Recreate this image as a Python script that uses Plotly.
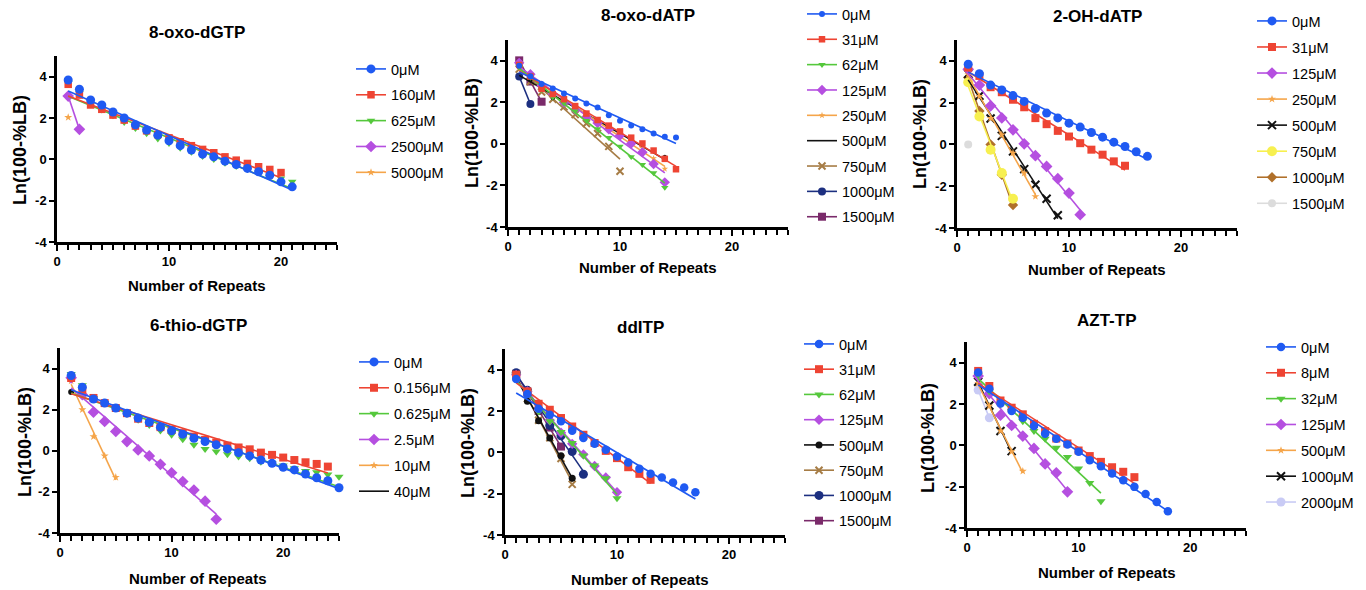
import numpy as np
import plotly.graph_objects as go

W, H = 1366, 590
FONT = "Arial, Liberation Sans, Helvetica, sans-serif"

# ---------------- data ----------------
# Panel 1: 8-oxo-dGTP
dgtp_labels = ["0μM", "160μM", "625μM", "2500μM", "5000μM"]
dgtp_0 = [3.84, 3.39, 2.87, 2.63, 2.29, 2.00, 1.67, 1.42, 1.17, 0.90, 0.66, 0.45, 0.25, 0.12, -0.09, -0.25, -0.44, -0.60, -0.77, -1.09, -1.33]
dgtp_160 = [3.63, 3.11, 2.63, 2.42, 2.14, 1.90, 1.61, 1.38, 1.20, 1.04, 0.85, 0.66, 0.48, 0.32, 0.12, -0.04, -0.20, -0.36, -0.49, -0.64]
dgtp_625 = [3.70, 3.20, 2.65, 2.40, 2.12, 1.80, 1.50, 1.25, 1.00, 0.78, 0.55, 0.35, 0.15, 0.00, -0.18, -0.33, -0.48, -0.63, -0.78, -0.92, -1.08]
dgtp_2500 = [3.06, 1.45]
dgtp_5000 = [2.03]

# Panel 2: 8-oxo-dATP
datp_labels = ["0μM", "31μM", "62μM", "125μM", "250μM", "500μM", "750μM", "1000μM", "1500μM"]
datp_0 = [3.76, 3.26, 2.88, 2.67, 2.43, 2.18, 1.94, 1.75, 1.38, 1.11, 0.88, 0.71, 0.50, 0.34, 0.31]
datp_31 = [3.80, 3.25, 2.65, 2.40, 2.15, 1.82, 1.46, 1.15, 0.88, 0.60, 0.30, 0.02, -0.32, -0.72, -1.22]
datp_62 = [3.70, 3.20, 2.60, 2.25, 1.95, 1.58, 1.12, 0.72, 0.30, -0.12, -0.62, -1.00, -1.40, -2.10]
datp_125 = [3.90, 3.35, 2.80, 2.40, 2.00, 1.65, 1.30, 1.00, 0.70, 0.40, 0.02, -0.40, -0.97, -1.85]
datp_250 = [3.80, 3.30, 2.75, 2.40, 2.05, 1.70, 1.35, 1.00, 0.70, 0.40, 0.10, -0.20, -0.70, -1.20]
datp_500 = [3.70, 3.05, 2.60, 2.20, 1.95, 1.60, 1.30, 1.00, 0.75, 0.50, 0.20, -0.05, -0.35, -0.62]
datp_750 = [3.60, 3.00, 2.50, 2.15, 1.78, 1.41, 0.98, 0.50, -0.12, -1.32]
datp_1000 = [3.24, 1.92]
datp_1500 = [4.02, 3.00, 2.03]

# Panel 3: 2-OH-dATP
oh_labels = ["0μM", "31μM", "125μM", "250μM", "500μM", "750μM", "1000μM", "1500μM"]
oh_0 = [3.84, 3.39, 2.84, 2.61, 2.34, 2.06, 1.72, 1.50, 1.27, 1.02, 0.83, 0.57, 0.35, 0.11, -0.10, -0.35, -0.57]
oh_31 = [3.68, 3.28, 2.74, 2.50, 2.14, 1.78, 1.26, 0.97, 0.65, 0.38, 0.06, -0.25, -0.49, -0.81, -1.02]
oh_125 = [3.60, 2.84, 1.85, 1.27, 0.70, 0.03, -0.54, -1.05, -1.64, -2.33, -3.36]
oh_250 = [3.35, 2.30, 1.25, 0.46, -0.41, -1.37, -2.49]
oh_500 = [3.38, 2.33, 1.24, 0.41, -0.33, -1.18, -1.93, -2.60, -3.39]
oh_750 = [2.98, 1.34, -0.25, -1.37, -2.60]
oh_1000 = [3.20, 1.60, 0.00, -1.45, -2.90]
oh_1500 = [0.00]

# Panel 4: 6-thio-dGTP
tg_labels = ["0μM", "0.156μM", "0.625μM", "2.5μM", "10μM", "40μM"]
tg_0 = [3.66, 3.09, 2.52, 2.32, 2.08, 1.83, 1.59, 1.39, 1.15, 0.97, 0.81, 0.61, 0.45, 0.29, 0.09, -0.09, -0.25, -0.45, -0.61, -0.80, -0.93, -1.13, -1.31, -1.46, -1.80]
tg_0156 = [3.54, 2.97, 2.57, 2.32, 2.08, 1.83, 1.56, 1.35, 1.15, 1.02, 0.86, 0.69, 0.53, 0.40, 0.25, 0.16, 0.07, -0.09, -0.20, -0.33, -0.45, -0.56, -0.64, -0.77]
tg_0625 = [3.74, 3.19, 2.57, 2.32, 2.08, 1.80, 1.51, 1.26, 0.99, 0.78, 0.56, 0.29, 0.09, -0.04, -0.17, -0.28, -0.36, -0.53, -0.61, -0.72, -0.85, -0.98, -1.05, -1.15, -1.26]
tg_25 = [3.55, 2.73, 1.88, 1.43, 0.94, 0.45, 0.04, -0.25, -0.66, -1.07, -1.50, -1.91, -2.45, -3.33]
tg_10 = [3.40, 2.00, 0.69, -0.25, -1.29]
tg_40 = [2.86]

# Panel 5: ddITP
dd_labels = ["0μM", "31μM", "62μM", "125μM", "500μM", "750μM", "1000μM", "1500μM"]
dd_0 = [3.55, 2.82, 2.11, 1.82, 1.50, 1.04, 0.69, 0.41, 0.12, -0.20, -0.49, -0.80, -1.04, -1.22, -1.46, -1.70, -1.93]
dd_31 = [3.76, 2.95, 2.35, 2.06, 1.66, 1.25, 0.85, 0.45, 0.07, -0.28, -0.72, -1.04, -1.33]
dd_62 = [3.70, 2.90, 1.98, 1.50, 0.98, 0.45, -0.15, -0.64, -1.25, -2.22]
dd_125 = [3.75, 2.95, 2.05, 1.55, 0.95, 0.41, -0.10, -0.66, -1.22, -1.93]
dd_500 = [3.80, 2.47, 1.53, 0.69, -0.17, -1.25]
dd_750 = [3.70, 2.60, 1.55, 0.70, -0.30, -1.55]
dd_1000 = [3.85, 3.00, 2.05, 1.30, 0.80, 0.04, -1.06]
dd_1500 = [3.80, 2.90, 2.00, 1.20, 0.28]

# Panel 6: AZT-TP
azt_labels = ["0μM", "8μM", "32μM", "125μM", "500μM", "1000μM", "2000μM"]
azt_0 = [3.52, 2.74, 2.03, 1.66, 1.33, 0.93, 0.56, 0.32, 0.04, -0.31, -0.72, -1.01, -1.36, -1.69, -2.01, -2.35, -2.74, -3.19]
azt_8 = [3.60, 2.87, 2.17, 1.82, 1.50, 1.04, 0.69, 0.33, 0.09, -0.25, -0.52, -0.80, -1.06, -1.28, -1.54]
azt_32 = [3.40, 2.60, 1.98, 1.66, 1.17, 0.69, 0.32, -0.12, -0.56, -1.12, -1.82, -2.70]
azt_125 = [3.35, 2.50, 1.46, 0.96, 0.45, -0.15, -0.90, -1.33, -2.25]
azt_500 = [3.00, 1.90, 0.70, -0.30, -1.25]
azt_1000 = [3.08, 1.93, 0.69, -0.28]
azt_2000 = [2.68, 1.33]

x_ticks = [0, 10, 20]
y_ticks = [-4, -2, 0, 2, 4]
y_ticktext = ["-4", "-2", "0", "2", "4"]
x_title = "Number of Repeats"
y_title = "Ln(100-%LB)"

# ---------------- styles ----------------
BLUE = "#1F5AF2"
RED = "#EE4433"
GREEN = "#55C83C"
PURPLE = "#B54FE0"
ORANGE = "#F5A54A"
BLACK = "#111111"
BROWN = "#A67C45"
NAVY = "#1C2F80"
MAROON = "#7A2A6A"
YELLOW = "#F7F050"
BROWN2 = "#B0702A"
GRAY = "#DCDCDC"
LAVENDER = "#C9CBF5"

# (color, symbol, size[, "line" = legend shows line only])
panels = [
    dict(title="8-oxo-dGTP", labels=dgtp_labels,
         series=[dgtp_0, dgtp_160, dgtp_625, dgtp_2500, dgtp_5000],
         styles=[(BLUE, "circle", 9), (RED, "square", 7.5), (GREEN, "triangle-down", 7.5),
                 (PURPLE, "diamond", 9), (ORANGE, "star", 6)],
         box=(57, 337, 242, 56), leg=(357, 69, 26),
         t=(197, 32), xl=(197, 285), yl=(20, 150)),
    dict(title="8-oxo-dATP", labels=datp_labels,
         series=[datp_0, datp_31, datp_62, datp_125, datp_250, datp_500, datp_750, datp_1000, datp_1500],
         styles=[(BLUE, "circle", 6), (RED, "square", 6.5), (GREEN, "triangle-down", 6.5),
                 (PURPLE, "diamond", 8), (ORANGE, "star", 5), (BLACK, "circle", 4, "line"),
                 (BROWN, "x-thin", 7), (NAVY, "circle", 8), (MAROON, "square", 8)],
         box=(508, 788, 227, 40), leg=(808, 14, 25.5),
         t=(648, 15), xl=(648, 268), yl=(472, 133)),
    dict(title="2-OH-dATP", labels=oh_labels,
         series=[oh_0, oh_31, oh_125, oh_250, oh_500, oh_750, oh_1000, oh_1500],
         styles=[(BLUE, "circle", 9), (RED, "square", 8), (PURPLE, "diamond", 9),
                 (ORANGE, "star", 6), (BLACK, "x-thin", 8), (YELLOW, "circle", 10),
                 (BROWN2, "diamond", 8), (GRAY, "circle", 8)],
         box=(957, 1237, 228, 40), leg=(1258, 21, 26.2),
         t=(1097, 16), xl=(1097, 269), yl=(920, 134)),
    dict(title="6-thio-dGTP", labels=tg_labels,
         series=[tg_0, tg_0156, tg_0625, tg_25, tg_10, tg_40],
         styles=[(BLUE, "circle", 9), (RED, "square", 8), (GREEN, "triangle-down", 8),
                 (PURPLE, "diamond", 9), (ORANGE, "star", 6), (BLACK, "circle", 6, "line")],
         box=(60, 339, 533, 348), leg=(360, 362, 26),
         t=(198, 326), xl=(198, 578), yl=(25, 442)),
    dict(title="ddITP", labels=dd_labels,
         series=[dd_0, dd_31, dd_62, dd_125, dd_500, dd_750, dd_1000, dd_1500],
         styles=[(BLUE, "circle", 8.5), (RED, "square", 8), (GREEN, "triangle-down", 8),
                 (PURPLE, "diamond", 8), (BLACK, "circle", 7), (BROWN, "x-thin", 7),
                 (NAVY, "circle", 9), (MAROON, "square", 8)],
         box=(505, 785, 535, 349), leg=(805, 344, 25.4),
         t=(640, 327), xl=(640, 579), yl=(468, 443)),
    dict(title="AZT-TP", labels=azt_labels,
         series=[azt_0, azt_8, azt_32, azt_125, azt_500, azt_1000, azt_2000],
         styles=[(BLUE, "circle", 8.5), (RED, "square", 8), (GREEN, "triangle-down", 8),
                 (PURPLE, "diamond", 9), (ORANGE, "star", 6), (BLACK, "x-thin", 8),
                 (LAVENDER, "circle", 9)],
         box=(967, 1246, 528, 342), leg=(1267, 347, 26),
         t=(1107, 320), xl=(1107, 572), yl=(928, 438)),
]


def px(x):
    return x / W


def py(y):
    return 1 - y / H


def marker_dict(color, symbol, size):
    m = dict(color=color, symbol=symbol, size=size)
    if symbol.startswith("x-thin"):
        m["line"] = dict(color=color, width=2)
    else:
        m["line"] = dict(width=0)
    return m


fig = go.Figure()
layout = dict(
    width=W, height=H, margin=dict(l=0, r=0, t=0, b=0, autoexpand=False),
    paper_bgcolor="white", plot_bgcolor="white",
    font=dict(family=FONT, color="black"),
    annotations=[],
)

for i, p in enumerate(panels):
    k = i + 1
    xa = "x" if k == 1 else f"x{k}"
    ya = "y" if k == 1 else f"y{k}"
    lg = "legend" if k == 1 else f"legend{k}"
    n = len(p["series"])
    # draw in reverse so the first series sits on top
    for j in reversed(range(n)):
        yv = np.array(p["series"][j], dtype=float)
        xv = np.arange(1, len(yv) + 1)
        st = p["styles"][j]
        color, symbol, size = st[0], st[1], st[2]
        line_only = len(st) > 3 and st[3] == "line"
        name = p["labels"][j]
        grp = f"p{k}_{j}"
        if len(yv) >= 2:
            slope, icpt = np.polyfit(xv, yv, 1)
            fx = np.array([xv.min(), xv.max()])
            fy = slope * fx + icpt
            lx_, ly_ = fx, fy
        else:
            lx_, ly_ = xv, yv
        # fit line (also the legend entry; its own markers are hidden on the plot)
        fig.add_trace(go.Scatter(
            x=lx_, y=ly_, xaxis=xa, yaxis=ya,
            mode="lines" if line_only else "lines+markers",
            line=dict(color=color, width=1.6),
            marker=marker_dict(color, symbol, size),
            selectedpoints=[], unselected=dict(marker=dict(opacity=0)),
            name=name, legend=lg, legendgroup=grp, legendrank=j + 1,
            showlegend=True, hoverinfo="skip", cliponaxis=False))
        # data points
        fig.add_trace(go.Scatter(
            x=xv, y=yv, xaxis=xa, yaxis=ya, mode="markers",
            marker=marker_dict(color, symbol, size),
            name=name, legend=lg, legendgroup=grp, showlegend=False,
            cliponaxis=False))

    x0, x25, yb, yt = p["box"]
    axis_common = dict(showline=True, linewidth=2.5, linecolor="black", showgrid=False,
                       zeroline=False, ticks="outside", tickwidth=2, tickcolor="black",
                       tickfont=dict(family=FONT, size=13, color="black", weight="bold"))
    layout["xaxis" if k == 1 else f"xaxis{k}"] = dict(
        axis_common, domain=[px(x0), px(x25)], range=[0, 25], anchor=ya,
        tickvals=x_ticks, ticklen=6,
        minor=dict(ticks="outside", dtick=1, tick0=0, ticklen=5, tickwidth=1.5,
                   tickcolor="black", showgrid=False))
    layout["yaxis" if k == 1 else f"yaxis{k}"] = dict(
        axis_common, domain=[py(yb), py(yt)], range=[-4, 5], anchor=xa,
        tickvals=y_ticks, ticktext=y_ticktext, ticklen=5)

    lx, ly, gap = p["leg"]
    layout[lg] = dict(
        x=px(lx - 6), y=py(ly - 16), xanchor="left", yanchor="top",
        font=dict(family=FONT, size=14.5, color="black"),
        bgcolor="rgba(0,0,0,0)", borderwidth=0, itemwidth=30,
        traceorder="grouped", tracegroupgap=max(gap - 22, 0))

    tx, ty = p["t"]
    layout["annotations"].append(dict(
        text=p["title"], x=px(tx), y=py(ty), xref="paper", yref="paper",
        xanchor="center", yanchor="middle", showarrow=False,
        font=dict(family=FONT, size=17, color="black", weight="bold")))
    lx2, ly2 = p["xl"]
    layout["annotations"].append(dict(
        text=x_title, x=px(lx2), y=py(ly2), xref="paper", yref="paper",
        xanchor="center", yanchor="middle", showarrow=False,
        font=dict(family=FONT, size=15, color="black", weight="bold")))
    yx, yy = p["yl"]
    layout["annotations"].append(dict(
        text=y_title, x=px(yx), y=py(yy), xref="paper", yref="paper",
        xanchor="center", yanchor="middle", showarrow=False, textangle=-90,
        font=dict(family=FONT, size=18, color="black", weight="bold")))

fig.update_layout(**layout)
fig.write_html("out.html", config={"displayModeBar": False},
               post_script="document.body.style.margin='0px';")
